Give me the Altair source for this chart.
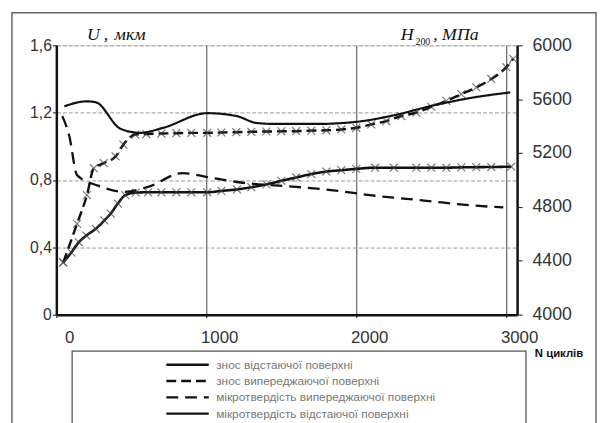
import altair as alt
import pandas as pd

# ---- data ----
series_names = [
    "знос відстаючої поверхні",
    "знос випереджаючої поверхні",
    "мікротвердість випереджаючої поверхні",
    "мікротвердість відстаючої поверхні",
]

cycles_a = [46, 100, 150, 200, 263, 320, 362, 410, 460, 530, 612, 700, 800, 900, 1006, 1100, 1204,
            1300, 1401, 1500, 1599, 1700, 1800, 1900, 2000, 2125, 2250, 2400, 2500, 2600, 2700, 2800,
            2900, 3033]
wear_a = [0.31, 0.37, 0.43, 0.47, 0.51, 0.56, 0.60, 0.66, 0.71, 0.725, 0.727, 0.727, 0.727, 0.727,
          0.727, 0.735, 0.744, 0.757, 0.774, 0.795, 0.815, 0.835, 0.85, 0.858, 0.866, 0.873, 0.873,
          0.873, 0.873, 0.873, 0.875, 0.876, 0.877, 0.879]

cycles_b = [46, 138, 204, 250, 316, 395, 447, 526, 600, 700, 800, 900, 1006, 1100, 1200, 1300, 1400,
            1500, 1599, 1700, 1800, 1900, 2000, 2100, 2200, 2300, 2400, 2500, 2600, 2700, 2800, 2900,
            3000, 3046]
wear_b = [0.31, 0.54, 0.71, 0.87, 0.90, 0.94, 1.01, 1.07, 1.073, 1.076, 1.078, 1.08, 1.08, 1.082,
          1.084, 1.086, 1.088, 1.089, 1.09, 1.093, 1.095, 1.10, 1.11, 1.13, 1.15, 1.18, 1.20, 1.235,
          1.27, 1.31, 1.35, 1.40, 1.47, 1.52]

cycles_c = [40, 86, 138, 283, 447, 612, 842, 1006, 1204, 1599, 1816, 2125, 2454, 2783, 2980]
hard_c = [5474, 5328, 5036, 4956, 4912, 4949, 5051, 5022, 4985, 4949, 4927, 4883, 4847, 4810, 4796]

cycles_d = [53, 204, 263, 428, 559, 711, 1006, 1204, 1336, 1467, 1730, 1993, 2257, 2520, 2783, 3026]
hard_d = [5547, 5584, 5577, 5380, 5350, 5387, 5496, 5474, 5423, 5416, 5416, 5431, 5482, 5555,
          5613, 5650]

x_ticks = [0, 1000, 2000, 3000]
u_ticks = [0, 0.4, 0.8, 1.2, 1.6]
h_ticks = [4000, 4400, 4800, 5200, 5600, 6000]

# ---- tables ----
wear_df = pd.concat([
    pd.DataFrame({"N": cycles_a, "v": wear_a, "s": series_names[0]}),
    pd.DataFrame({"N": cycles_b, "v": wear_b, "s": series_names[1]}),
])
hard_df = pd.concat([
    pd.DataFrame({"N": cycles_c, "v": hard_c, "s": series_names[2]}),
    pd.DataFrame({"N": cycles_d, "v": hard_d, "s": series_names[3]}),
])

W, H = 467, 273
FONT = "Liberation Sans"
SERIF = "Liberation Serif"

x_scale = alt.Scale(domain=[0, 3072], nice=False, zero=False)
x_axis = alt.Axis(values=x_ticks, format="d", grid=True, gridColor="#444", gridWidth=1,
                  domainColor="#111", domainWidth=2.5, tickColor="#111", tickSize=3,
                  labelPadding=12, labelOffset=13, labelFont=FONT, labelFontSize=17,
                  labelColor="#333", title=None, labelFlush=False)

dash_scale = alt.Scale(domain=series_names, range=[[1, 0], [10, 5], [12, 7], [1, 0]])
width_scale = alt.Scale(domain=series_names, range=[2.6, 2.2, 2.4, 1.6])
legend = alt.Legend(orient="none", legendX=110, legendY=316, title=None, symbolType="stroke",
                    symbolSize=1849, symbolStrokeColor="#111", clipHeight=15.5, rowPadding=0.5,
                    labelFont=FONT, labelFontSize=12, labelColor="#777", labelOffset=6,
                    labelLimit=400)

wear_line = alt.Chart(wear_df).mark_line(interpolate="monotone", color="#111").encode(
    x=alt.X("N:Q", scale=x_scale, axis=x_axis),
    y=alt.Y("v:Q", scale=alt.Scale(domain=[0, 1.6], nice=False),
            axis=alt.Axis(values=u_ticks, grid=True, gridColor="#999", gridDash=[4, 2],
                          gridWidth=1, domainColor="#111", domainWidth=2.5, tickColor="#111",
                          tickSize=4, labelPadding=1, labelFont=FONT, labelFontSize=16,
                          labelColor="#333", title=None,
                          labelExpr="datum.value == 0 ? '0' : replace(format(datum.value, '.1f'), '.', ',')")),
    strokeDash=alt.StrokeDash("s:N", scale=dash_scale, legend=legend),
    strokeWidth=alt.StrokeWidth("s:N", scale=width_scale, legend=legend),
    detail="s:N",
)
wear_pts = alt.Chart(wear_df).mark_point(shape="M-1,-1L1,1M-1,1L1,-1", filled=False, size=64,
                                         color="#444", strokeWidth=1.2).encode(
    x=alt.X("N:Q", scale=x_scale, axis=x_axis),
    y=alt.Y("v:Q"),
)
wear_layer = alt.layer(wear_line, wear_pts)

hard_line = alt.Chart(hard_df).mark_line(interpolate="monotone", color="#111").encode(
    x=alt.X("N:Q", scale=x_scale, axis=x_axis),
    y=alt.Y("v:Q", scale=alt.Scale(domain=[4000, 6000], nice=False),
            axis=alt.Axis(orient="right", values=h_ticks, format="d", grid=False,
                          domainColor="#111", domainWidth=2.5, tickColor="#111", tickSize=5,
                          labelPadding=10, labelFont=FONT, labelFontSize=18, labelColor="#333",
                          title=None)),
    strokeDash=alt.StrokeDash("s:N", scale=dash_scale, legend=legend),
    strokeWidth=alt.StrokeWidth("s:N", scale=width_scale, legend=legend),
    detail="s:N",
)

one = alt.Data(values=[{}])


def label(text, x, y, size, style="italic", font=SERIF, weight="normal", color="#111"):
    return alt.Chart(one).mark_text(text=text, align="left", baseline="alphabetic",
                                    font=font, fontSize=size, fontStyle=style,
                                    fontWeight=weight, color=color).encode(
        x=alt.value(x), y=alt.value(y))


titles = [
    label("U", 31, -5, 18),
    label(",", 48, -5, 18),
    label("мкм", 59, -5, 18),
    label("H", 349, -5, 18),
    label("200", 364, 0, 10, style="normal"),
    label(", МПа", 382, -5, 18),
    label("N циклів", 485, 316, 11.5, style="normal", font=FONT, weight="bold"),
]

frame = alt.Chart(one).mark_rect(fill="transparent", stroke="#666", strokeWidth=1.5).encode(
    x=alt.value(-45), x2=alt.value(547), y=alt.value(-33), y2=alt.value(420))
legend_box = alt.Chart(one).mark_rect(fill="transparent", stroke="#555", strokeWidth=1.3).encode(
    x=alt.value(16), x2=alt.value(476), y=alt.value(310), y2=alt.value(420))

chart = alt.layer(wear_layer, hard_line, frame, legend_box, *titles).resolve_scale(
    y="independent"
).properties(
    width=W, height=H,
    autosize=alt.AutoSizeParams(type="none"),
    padding={"left": 49, "top": 35, "right": 82, "bottom": 107},
).configure_view(stroke=None).configure(background="white")

chart.save("out.html", embed_options={"renderer": "svg", "actions": False})
